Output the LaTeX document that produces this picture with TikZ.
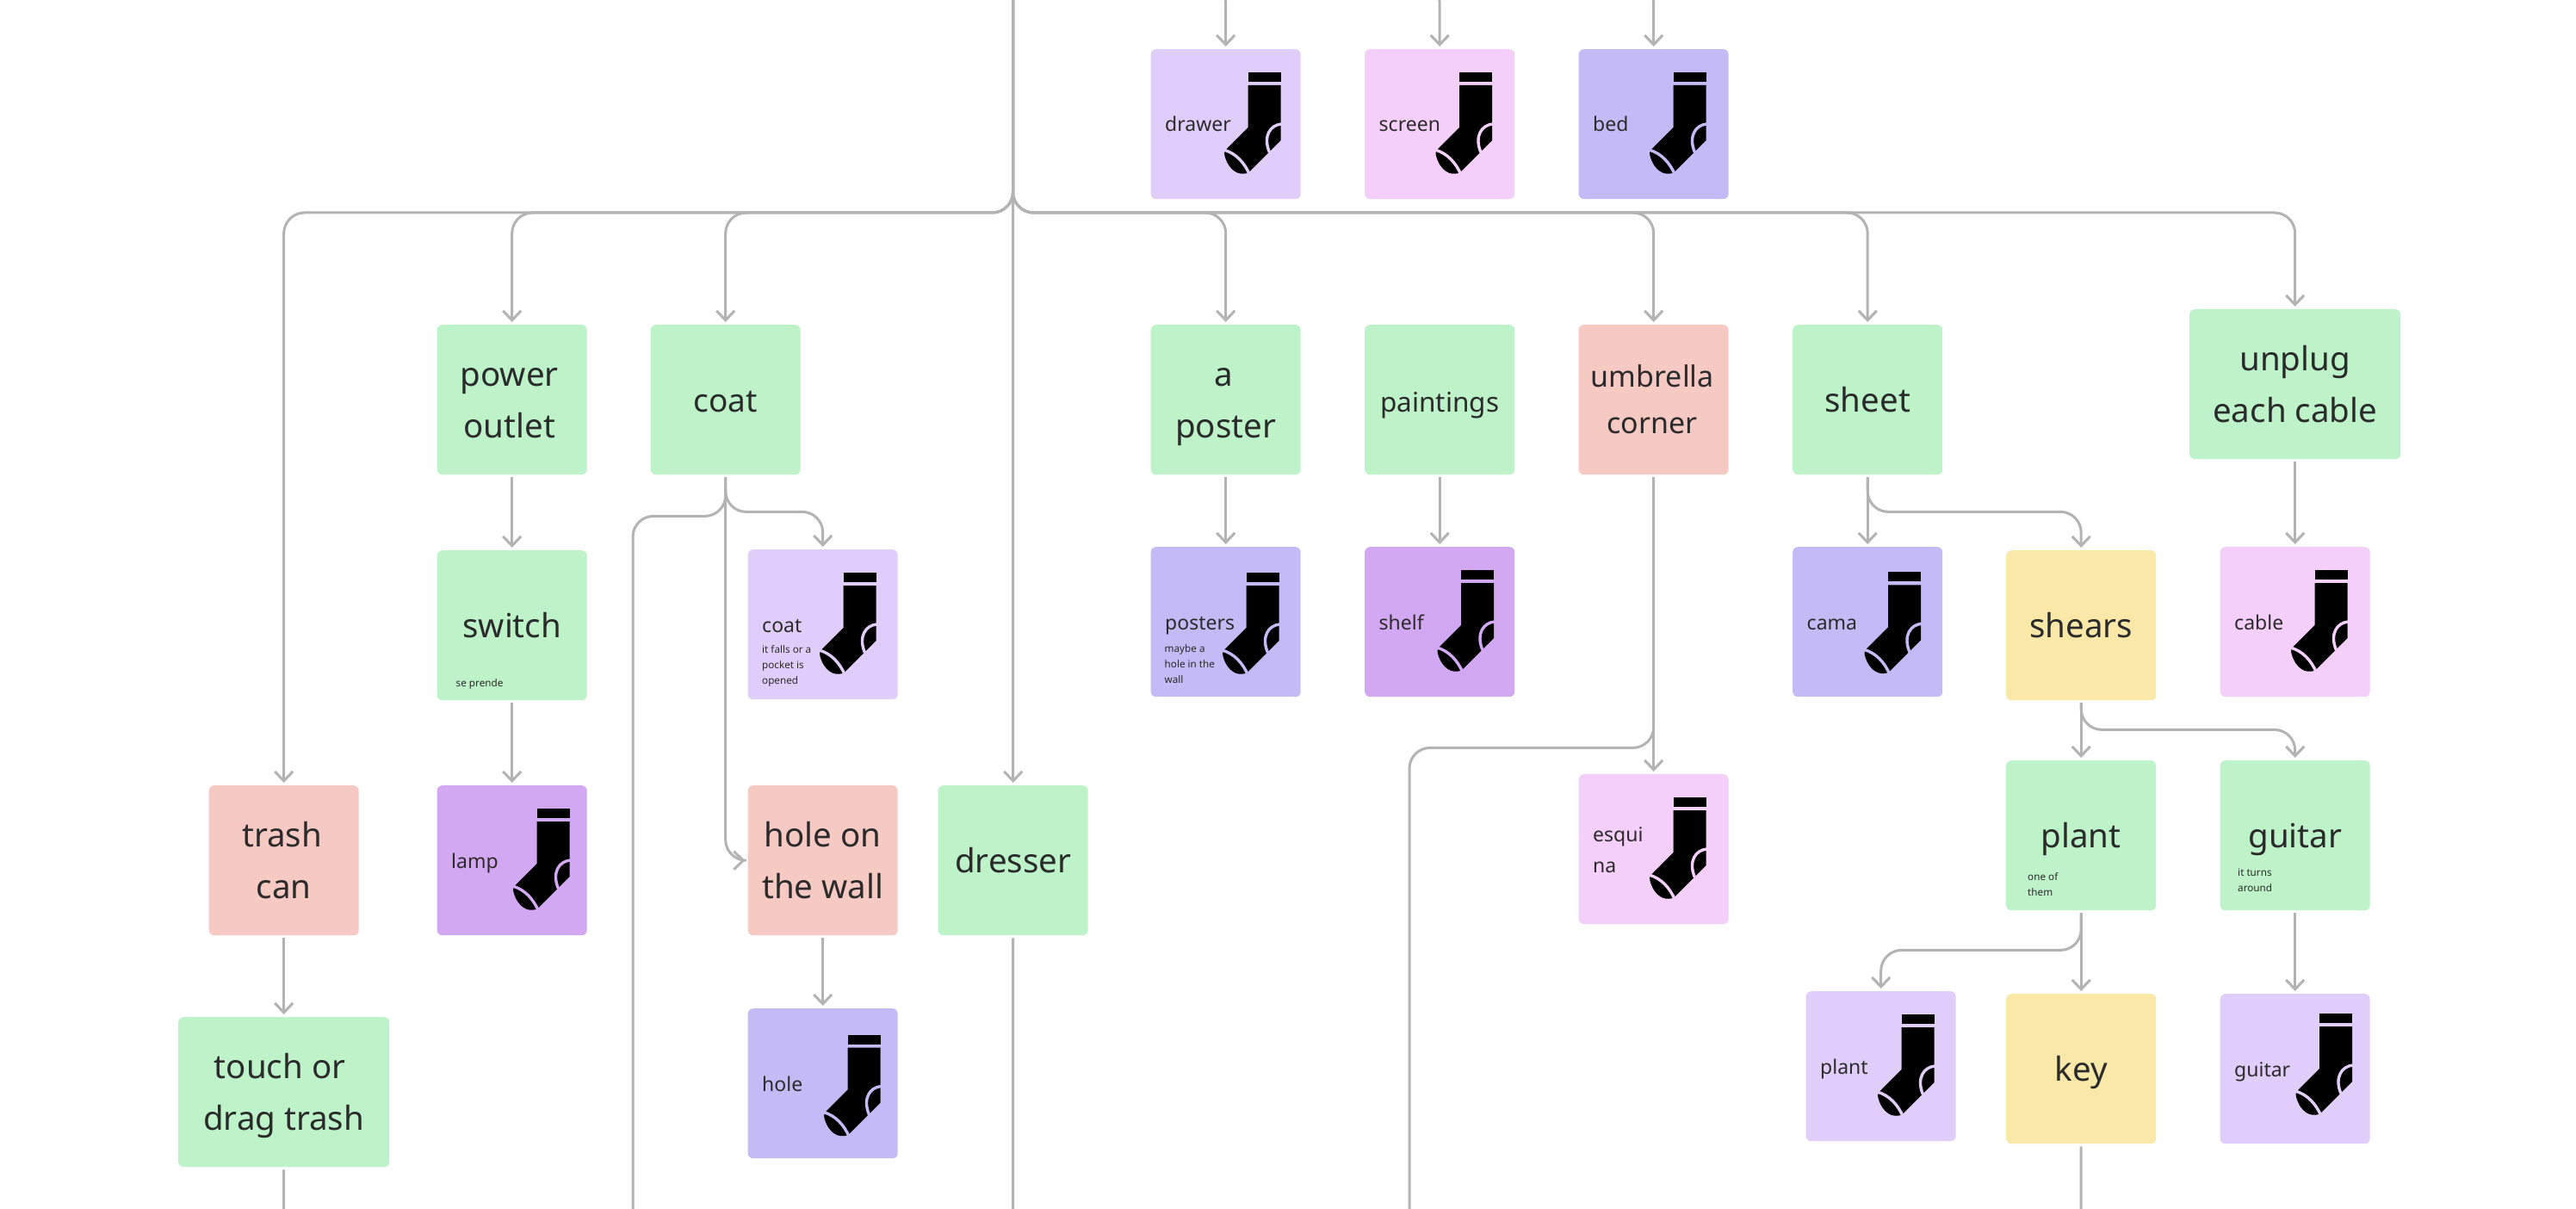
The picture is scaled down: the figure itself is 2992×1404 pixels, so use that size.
\documentclass[tikz,border=0pt]{standalone}
\usepackage{fontspec}
\setmainfont{Noto Sans}
\usetikzlibrary{arrows.meta,calc}
\definecolor{cgreen}{HTML}{BEF3CA}
\definecolor{clav}{HTML}{E0CDFA}
\definecolor{cpink}{HTML}{F4CFFA}
\definecolor{cviol}{HTML}{C4BAF6}
\definecolor{cpurp}{HTML}{D2A8F2}
\definecolor{csalm}{HTML}{F6C9C3}
\definecolor{cyell}{HTML}{FAE8A9}
\definecolor{cline}{HTML}{B3B3B3}
\definecolor{ctext}{HTML}{2B2B2B}
\newcommand{\bs}{\rule[-16pt]{0pt}{60pt}}
\newcommand{\us}{\rule[-15pt]{0pt}{54pt}}
\tikzset{
 x=1pt,y=-1pt,
 box/.style={rectangle,rounded corners=6pt,draw=none,minimum width=174pt,minimum height=174pt,inner sep=0pt,align=center,text=ctext,font=\fontsize{38.5}{60}\selectfont},
 widebox/.style={box,minimum width=245pt},
 conn/.style={draw=cline,line width=3pt,rounded corners=24pt,shorten <=3pt,shorten >=3pt,-{Straight Barb[length=11pt,width=21pt,line width=3pt]}},
 plainconn/.style={draw=cline,line width=3pt,rounded corners=24pt,shorten <=3pt},
 lab/.style={anchor=base west,inner sep=0pt,text=ctext,font=\fontsize{23}{23}\selectfont},
 note/.style={anchor=base west,inner sep=0pt,text=ctext,align=left,font=\fontsize{11.7}{18}\selectfont},
}
% \sockbox{name}{x left}{y top}{colour}{sock dx}{sock dy}{label}
\newcommand{\sockbox}[7]{%
 \node[box,fill=#4,anchor=north west] (#1) at (#2,#3) {};
 \begin{scope}[shift={(#1.north west)},xshift=#5pt,yshift=-#6pt]
  \fill[black] (110,27) rectangle (148,38);
  \fill[black] (110,42) -- (148,42) -- (148,106) -- (112,142) -- (109,144)
     .. controls (100,147) and (88,142) .. (83,124) .. controls (82,120) and (83,118) .. (85,116) -- (110,91) -- cycle;
  \draw[#4,line width=3.4pt] (149,87) .. controls (136,88) and (127,101) .. (135,120);
  \draw[#4,line width=3.4pt] (82,117) .. controls (96,121) and (106,132) .. (112,146);
 \end{scope}
 \node[lab] (#1l) at ($(#1.north west)+(16.5,96)$) {#7};
}
\begin{document}
\begin{tikzpicture}
\useasboundingbox (0,0) rectangle (2992,1404);
\fill[white] (0,0) rectangle (2992,1404);
% green / plain boxes
\node[box,fill=cgreen,anchor=north west] (power) at (507.5,377) {\bs power\hspace*{6pt}\\\bs outlet\hspace*{6pt}};
\node[box,fill=cgreen,anchor=north west,font=\fontsize{37}{60}\selectfont] (coat) at (755.5,377) {\bs coat};
\node[box,fill=cgreen,anchor=north west] (aposter) at (1336.5,377) {\bs a\hspace*{4pt}\\\bs poster};
\node[box,fill=cgreen,anchor=north west,font=\fontsize{31.5}{60}\selectfont] (paint) at (1585,377) {\bs paintings};
\node[box,fill=csalm,anchor=north west,font=\fontsize{34}{54}\selectfont] (umb) at (1833.5,377) {\us umbrella\hspace*{3pt}\\\us corner\hspace*{3pt}};
\node[box,fill=cgreen,anchor=north west] (sheet) at (2082,377) {\bs sheet};
\node[widebox,fill=cgreen,anchor=north west] (unplug) at (2543,359) {\bs unplug\\\bs each cable};
\node[box,fill=cgreen,anchor=north west] (switch) at (507.5,639) {\bs switch};
\node[box,fill=cyell,anchor=north west] (shears) at (2330,639) {\bs shears};
\node[box,fill=csalm,anchor=north west] (trash) at (242.5,912) {\bs trash\hspace*{4pt}\\\bs can};
\node[box,fill=csalm,anchor=north west] (holew) at (868.5,912) {\bs hole on\\\bs the wall};
\node[box,fill=cgreen,anchor=north west] (dresser) at (1089.5,912) {\bs dresser};
\node[widebox,fill=cgreen,anchor=north west] (touch) at (207,1181) {\bs touch or\hspace*{9pt}\\\bs drag trash};
\node[box,fill=cgreen,anchor=north west] (plant) at (2330,883) {\bs plant};
\node[box,fill=cgreen,anchor=north west] (guitar) at (2578.5,883) {\bs guitar};
\node[box,fill=cyell,anchor=north west] (key) at (2330,1154) {\bs key};
% notes
\node[note] (nswitch) at (529.5,797) {se prende};
\node[note] (nplant) at (2355,1040) {one of\\them};
\node[note] (nguitar) at (2599,1035) {it turns\\around};
% sock boxes
\sockbox{drawer}{1336.5}{57}{clav}{3}{0}{drawer}
\sockbox{screen}{1585}{57}{cpink}{0}{0}{screen}
\sockbox{bed}{1833.5}{57}{cviol}{0}{0}{bed}
\sockbox{scoat}{868.5}{638}{clav}{1}{0}{coat}
\sockbox{sposters}{1336.5}{635}{cviol}{1}{3}{posters}
\sockbox{sshelf}{1585}{635}{cpurp}{2}{0}{shelf}
\sockbox{scama}{2082}{635}{cviol}{1}{2.3}{cama}
\sockbox{scable}{2578.5}{635}{cpink}{0}{0}{cable}
\sockbox{slamp}{507.5}{912}{cpurp}{6}{0}{lamp}
\sockbox{shole}{868.5}{1171}{cviol}{6}{3.5}{hole}
\sockbox{sesq}{1833.5}{899}{cpink}{0}{0}{}
\sockbox{splant}{2097.5}{1151}{clav}{1}{0}{plant}
\sockbox{sguitar}{2578.5}{1154}{clav}{5.5}{-4}{guitar}
\node[lab,align=left,font=\fontsize{23}{36}\selectfont] (lesq) at (1850,1013) {esqui\\na};
\node[note] (nscoat) at (885,794) {it falls or a\\pocket is\\opened};
\node[note] (nspost) at (1352.5,793) {maybe a\\hole in the\\wall};
% free ends
\coordinate (top) at (1176.5,-6);
\coordinate (t1) at (1395,-20);
\coordinate (t2) at (1644,-20);
\coordinate (t3) at (1892,-20);
\coordinate (bcoat) at (735,1410);
\coordinate (bdress) at (1176.5,1410);
\coordinate (btouch) at (329.5,1410);
\coordinate (bumb) at (1637,1410);
\coordinate (bkey) at (2417,1410);
% connectors
\draw[conn] (t1) -| (drawer.north);
\draw[conn] (t2) -| (screen.north);
\draw[conn] (t3) -| (bed.north);
\foreach \n in {trash,power,coat,aposter,umb,sheet,unplug}{
  \draw[conn] (top) -- ++(0,253) -| (\n.north);
}
\draw[conn] (top) -- (dresser.north);
\draw[conn] (power) -- (switch);
\draw[conn] (switch) -- (slamp);
\draw[conn] (trash) -- (touch);
\draw[plainconn] (touch.south) -- (btouch);
\draw[plainconn] (coat.south) -- ++(0,48) -| (bcoat);
\draw[conn] (coat.south) -- ++(0,43) -| (scoat.north);
\draw[conn] (coat.south) |- (holew.west);
\draw[conn] (holew) -- (shole);
\draw[plainconn] (dresser.south) -- (bdress);
\draw[conn] (aposter) -- (sposters);
\draw[conn] (paint) -- (sshelf);
\draw[conn] (umb) -- (sesq);
\draw[plainconn] (umb.south) -- ++(0,317) -| (bumb);
\draw[conn] (sheet) -- (scama);
\draw[conn] (sheet.south) -- ++(0,43) -| (shears.north);
\draw[conn] (unplug) -- (scable);
\draw[conn] (shears) -- (plant);
\draw[conn] (shears.south) -- ++(0,34) -| (guitar.north);
\draw[conn] (plant) -- (key);
\draw[conn] (plant.south) -- ++(0,46) -| (splant.north);
\draw[conn] (guitar) -- (sguitar);
\draw[plainconn] (key.south) -- (bkey);
\end{tikzpicture}
\end{document}
